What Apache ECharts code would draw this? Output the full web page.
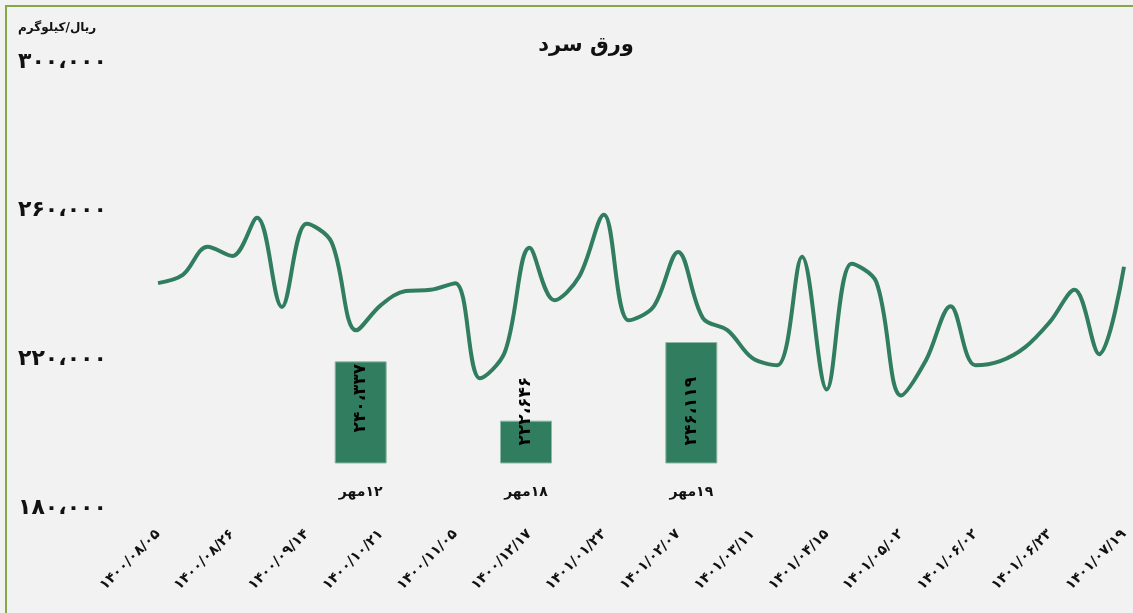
<!DOCTYPE html>
<html>
<head>
<meta charset="utf-8">
<title>ورق سرد</title>
<script src="https://cdn.jsdelivr.net/npm/echarts@6/dist/echarts.min.js"></script>
<style>
    html, body { margin: 0; padding: 0; background: #f2f2f2; }
    #frame {
        position: absolute; left: 5px; top: 5px; width: 1140px; height: 620px;
        border-top: 2px solid #86a84b; border-left: 2px solid #86a84b;
    }
    #main { position: absolute; left: 0; top: 0; width: 1133px; height: 613px; }
</style>
</head>
<body>
<div id="frame"></div>
<div id="main"></div>
<script>
// نمودار ورق سرد
const fa = "'DejaVu Sans', 'Noto Sans', sans-serif";

// every 3rd date is shown on the axis; the others are not readable
const dates = [
    "۱۴۰۰/۰۸/۰۵", "", "", "۱۴۰۰/۰۸/۲۶", "", "", "۱۴۰۰/۰۹/۱۴", "", "",
    "۱۴۰۰/۱۰/۲۱", "", "", "۱۴۰۰/۱۱/۰۵", "", "", "۱۴۰۰/۱۲/۱۷", "", "",
    "۱۴۰۱/۰۱/۲۳", "", "", "۱۴۰۱/۰۲/۰۷", "", "", "۱۴۰۱/۰۳/۱۱", "", "",
    "۱۴۰۱/۰۴/۱۵", "", "", "۱۴۰۱/۰۵/۰۲", "", "", "۱۴۰۱/۰۶/۰۲", "", "",
    "۱۴۰۱/۰۶/۲۳", "", "", "۱۴۰۱/۰۷/۱۹"
];
const prices = [
    240500, 242700, 250300, 247800, 258100, 234100, 256500, 251600, 227800, 234600,
    238400, 238700, 240500, 214900, 221900, 250000, 235900, 242200, 258900, 230500,
    234100, 248900, 231100, 227800, 220300, 218400, 247600, 211900, 245700, 240800,
    210300, 219700, 234300, 218400, 219500, 223200, 230000, 238700, 221400, 244900
];
const yTicks = [180000, 220000, 260000, 300000];

// ستون‌های مهر
const barDays = ["۱۲مهر", "۱۸مهر", "۱۹مهر"];
const barValues = [240337, 222646, 246119];

const green = "#317d60";
const toFa = (n) => String(n).replace(/\d/g, (d) => "۰۱۲۳۴۵۶۷۸۹"[d]);
const faNum = (v, sep) => toFa(Math.round(v).toLocaleString("en-US")).replace(/,/g, sep);
const rtl = (s) => "\u202B" + s + "\u202C";

const chart = echarts.init(document.getElementById("main"));

const option = {
    backgroundColor: "transparent",
    animation: false,
    title: {
        text: "ورق سرد",
        left: 581,
        textAlign: "center",
        top: 30,
        textStyle: { fontFamily: fa, fontSize: 21, fontWeight: "bold", color: "#111" },
    },
    graphic: [
        {
            type: "text",
            left: 18,
            top: 22,
            style: { text: "ریال/کیلوگرم", font: "bold 12px " + fa, fill: "#111" },
        },
    ],
    grid: [
        { left: 158, right: 9, top: 62, bottom: 105 },
        { left: 278, right: 359, top: 329, bottom: 150 },
    ],
    xAxis: [
        {
            type: "category",
            gridIndex: 0,
            data: dates,
            boundaryGap: false,
            axisLine: { show: false },
            axisTick: { show: false },
            axisLabel: {
                interval: 2,
                rotate: 45,
                margin: 24,
                fontFamily: fa,
                fontSize: 14,
                fontWeight: "bold",
                color: "#111",
            },
        },
        {
            type: "category",
            gridIndex: 1,
            data: barDays,
            axisLine: { show: false },
            axisTick: { show: false },
            axisLabel: {
                margin: 22,
                fontFamily: fa,
                fontSize: 14,
                fontWeight: "bold",
                color: "#111",
                formatter: (v) => rtl(v),
            },
        },
    ],
    yAxis: [
        {
            type: "value",
            gridIndex: 0,
            min: yTicks[0],
            max: yTicks[yTicks.length - 1],
            interval: 40000,
            splitLine: { show: false },
            axisLabel: {
                align: "left",
                margin: 140,
                fontFamily: fa,
                fontSize: 22,
                fontWeight: "bold",
                color: "#111",
                formatter: (v) => faNum(v, "،"),
            },
        },
        {
            type: "value",
            gridIndex: 1,
            min: 210000,
            max: 250000,
            show: false,
            splitLine: { show: false },
        },
    ],
    series: [
        {
            type: "line",
            xAxisIndex: 0,
            yAxisIndex: 0,
            data: prices,
            smooth: 0.35,
            showSymbol: false,
            lineStyle: { color: green, width: 4 },
        },
        {
            type: "bar",
            xAxisIndex: 1,
            yAxisIndex: 1,
            barWidth: 52,
            data: barValues.map((v, i) => ({
                value: v,
                label: { distance: i === 0 ? 31 : 18 },
            })),
            itemStyle: { color: green, borderColor: "#8fb8a4", borderWidth: 1 },
            label: {
                show: true,
                position: "insideBottom",
                rotate: 90,
                align: "left",
                verticalAlign: "middle",
                fontFamily: fa,
                fontSize: 17,
                fontWeight: "bold",
                color: "#000",
                formatter: (p) => faNum(p.value, "،"),
            },
        },
    ],
};

chart.setOption(option);
</script>
</body>
</html>
